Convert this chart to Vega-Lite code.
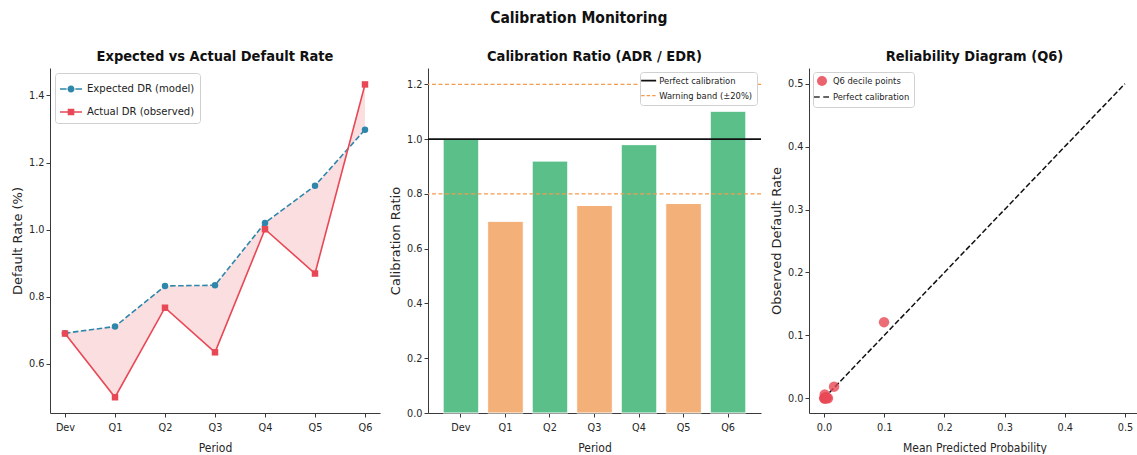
{
  "$schema": "https://vega.github.io/schema/vega-lite/v6.json",
  "background": "white",
  "padding": {"left": 11, "top": 11, "right": 0, "bottom": 0},
  "title": {"text": "Calibration Monitoring", "font": "DejaVu Sans Condensed", "fontSize": 15.5, "fontWeight": "bold", "color": "#111111", "anchor": "middle", "baseline": "alphabetic", "dx": 3, "offset": 10},
  "spacing": 48,
  "bounds": "flush",
  "resolve": {
    "scale": {"color": "independent", "stroke": "independent", "strokeDash": "independent", "shape": "independent", "fill": "independent"},
    "legend": {"color": "independent", "stroke": "independent", "strokeDash": "independent", "shape": "independent", "fill": "independent"}
  },
  "datasets": {
    "wide": [
      {"period": "Dev", "expected": 0.691, "actual": 0.690},
      {"period": "Q1", "expected": 0.711, "actual": 0.500},
      {"period": "Q2", "expected": 0.832, "actual": 0.767},
      {"period": "Q3", "expected": 0.834, "actual": 0.634},
      {"period": "Q4", "expected": 1.020, "actual": 1.001},
      {"period": "Q5", "expected": 1.131, "actual": 0.869},
      {"period": "Q6", "expected": 1.298, "actual": 1.433}
    ],
    "ratio": [
      {"period": "Dev", "ratio": 0.999, "status": "ok"},
      {"period": "Q1", "ratio": 0.700, "status": "warn"},
      {"period": "Q2", "ratio": 0.920, "status": "ok"},
      {"period": "Q3", "ratio": 0.758, "status": "warn"},
      {"period": "Q4", "ratio": 0.980, "status": "ok"},
      {"period": "Q5", "ratio": 0.765, "status": "warn"},
      {"period": "Q6", "ratio": 1.102, "status": "ok"}
    ],
    "refs": [
      {"label": "Perfect calibration", "y": 1.0},
      {"label": "Warning band (±20%)", "y": 0.8},
      {"label": "Warning band (±20%)", "y": 1.2}
    ],
    "diag": [
      {"x": 0.0, "y": 0.0},
      {"x": 0.5, "y": 0.5}
    ],
    "deciles": [
      {"x": 0.0003, "y": 0.0, "series": "Q6 decile points"},
      {"x": 0.0008, "y": 0.0, "series": "Q6 decile points"},
      {"x": 0.0012, "y": 0.006, "series": "Q6 decile points"},
      {"x": 0.0018, "y": 0.0, "series": "Q6 decile points"},
      {"x": 0.0025, "y": 0.002, "series": "Q6 decile points"},
      {"x": 0.0035, "y": 0.0, "series": "Q6 decile points"},
      {"x": 0.0045, "y": 0.001, "series": "Q6 decile points"},
      {"x": 0.0065, "y": 0.0, "series": "Q6 decile points"},
      {"x": 0.0166, "y": 0.0185, "series": "Q6 decile points"},
      {"x": 0.0997, "y": 0.121, "series": "Q6 decile points"}
    ]
  },
  "hconcat": [
    {
      "width": 330,
      "height": 345,
      "title": {"text": "Expected vs Actual Default Rate"},
      "data": {"name": "wide"},
      "encoding": {
        "x": {"field": "period", "type": "ordinal", "sort": ["Dev", "Q1", "Q2", "Q3", "Q4", "Q5", "Q6"], "scale": {"type": "point", "padding": 0.3}, "axis": {"title": "Period"}}
      },
      "layer": [
        {
          "mark": {"type": "area", "color": "#e84855", "opacity": 0.18},
          "encoding": {
            "y": {"field": "expected", "type": "quantitative", "scale": {"domain": [0.453, 1.482], "nice": false, "zero": false}, "axis": {"title": "Default Rate (%)", "values": [0.6, 0.8, 1.0, 1.2, 1.4], "format": ".1f"}},
            "y2": {"field": "actual"}
          }
        },
        {
          "mark": {"type": "line", "color": "#2e86ab", "strokeWidth": 1.6, "strokeDash": [5.5, 2.5]},
          "encoding": {"y": {"field": "expected", "type": "quantitative"}}
        },
        {
          "mark": {"type": "line", "color": "#e84855", "strokeWidth": 1.6},
          "encoding": {"y": {"field": "actual", "type": "quantitative"}}
        },
        {
          "mark": {"type": "point", "shape": "circle", "filled": true, "opacity": 1, "size": 42, "color": "#2e86ab"},
          "encoding": {"y": {"field": "expected", "type": "quantitative"}}
        },
        {
          "mark": {"type": "point", "shape": "square", "filled": true, "opacity": 1, "size": 42, "color": "#e84855"},
          "encoding": {"y": {"field": "actual", "type": "quantitative"}}
        },
        {
          "transform": [{"fold": ["expected", "actual"], "as": ["series", "value"]}],
          "mark": {"type": "point", "filled": true, "opacity": 0, "size": 10},
          "encoding": {
            "y": {"field": "value", "type": "quantitative"},
            "shape": {"field": "series", "type": "nominal", "scale": {"domain": ["expected", "actual"], "range": ["M-1,-0.07H-0.4V0.07H-1Z M0.4,-0.07H1V0.07H0.4Z M-0.32,0A0.32,0.32 0 1,1 0.32,0A0.32,0.32 0 1,1 -0.32,0Z", "M-1,-0.07H1V0.07H-1Z M-0.3,-0.3H0.3V0.3H-0.3Z"]}, "legend": null},
            "color": {
              "field": "series", "type": "nominal",
              "scale": {"domain": ["expected", "actual"], "range": ["#2e86ab", "#e84855"]},
              "legend": {
                "title": null, "orient": "top-left", "offset": 5,
                "fillColor": "white", "strokeColor": "#d0d0d0", "cornerRadius": 3, "padding": 5,
                "labelFont": "DejaVu Sans Condensed", "labelFontSize": 11.2, "labelColor": "#222222",
                "symbolSize": 484, "symbolOpacity": 1, "symbolStrokeWidth": 0, "rowPadding": 6, "labelOffset": 5,
                "labelExpr": "datum.value === 'expected' ? 'Expected DR (model)' : 'Actual DR (observed)'"
              }
            }
          }
        }
      ]
    },
    {
      "width": 333,
      "height": 345,
      "title": {"text": "Calibration Ratio (ADR / EDR)"},
      "layer": [
        {
          "data": {"name": "ratio"},
          "mark": {"type": "bar", "stroke": "white", "strokeWidth": 1},
          "encoding": {
            "x": {"field": "period", "type": "ordinal", "sort": ["Dev", "Q1", "Q2", "Q3", "Q4", "Q5", "Q6"], "scale": {"paddingInner": 0.2, "paddingOuter": 0.34}, "axis": {"title": "Period"}},
            "y": {"field": "ratio", "type": "quantitative", "scale": {"domain": [0, 1.26], "nice": false}, "axis": {"title": "Calibration Ratio", "values": [0, 0.2, 0.4, 0.6, 0.8, 1.0, 1.2], "format": ".1f"}},
            "fill": {"field": "status", "type": "nominal", "scale": {"domain": ["ok", "warn"], "range": ["#5bbf89", "#f3b078"]}, "legend": null}
          }
        },
        {
          "data": {"name": "refs"},
          "transform": [{"filter": "datum.label !== 'Perfect calibration'"}],
          "mark": {"type": "rule", "strokeDash": [4, 2.5], "strokeWidth": 1.3},
          "encoding": {
            "y": {"field": "y", "type": "quantitative"},
            "stroke": {"field": "label", "type": "nominal", "scale": {"domain": ["Perfect calibration", "Warning band (±20%)"], "range": ["#111111", "#f39c4f"]}}
          }
        },
        {
          "data": {"name": "refs"},
          "transform": [{"filter": "datum.label === 'Perfect calibration'"}],
          "mark": {"type": "rule", "strokeWidth": 1.8},
          "encoding": {
            "y": {"field": "y", "type": "quantitative"},
            "stroke": {
              "field": "label", "type": "nominal",
              "scale": {"domain": ["Perfect calibration", "Warning band (±20%)"], "range": ["#111111", "#f39c4f"]},
              "legend": {
                "title": null, "orient": "top-right", "offset": 4,
                "fillColor": "white", "strokeColor": "#d0d0d0", "cornerRadius": 3, "padding": 4,
                "labelFont": "DejaVu Sans Condensed", "labelFontSize": 9.3, "labelColor": "#222222",
                "symbolType": "stroke", "symbolSize": 225, "symbolStrokeWidth": 1.6, "rowPadding": 5, "labelOffset": 6,
                "encode": {"symbols": {"update": {
                  "strokeDash": {"signal": "datum.value === 'Perfect calibration' ? [1, 0] : [3.5, 2]"},
                  "strokeWidth": {"signal": "datum.value === 'Perfect calibration' ? 1.8 : 1.2"},
                  "opacity": {"value": 1}
                }}}
              }
            }
          }
        }
      ]
    },
    {
      "width": 331,
      "height": 345,
      "title": {"text": "Reliability Diagram (Q6)"},
      "layer": [
        {
          "data": {"name": "diag"},
          "mark": {"type": "line", "color": "#111111", "strokeDash": [5.5, 2.4], "strokeWidth": 1.5},
          "encoding": {
            "x": {"field": "x", "type": "quantitative", "scale": {"domain": [-0.025, 0.525], "nice": false, "zero": false}, "axis": {"title": "Mean Predicted Probability", "values": [0, 0.1, 0.2, 0.3, 0.4, 0.5], "format": ".1f"}},
            "y": {"field": "y", "type": "quantitative", "scale": {"domain": [-0.0234, 0.525], "nice": false, "zero": false}, "axis": {"title": "Observed Default Rate", "values": [0, 0.1, 0.2, 0.3, 0.4, 0.5], "format": ".1f"}}
          }
        },
        {
          "data": {"name": "deciles"},
          "mark": {"type": "point", "filled": true, "opacity": 0.8, "size": 110},
          "encoding": {
            "x": {"field": "x", "type": "quantitative"},
            "y": {"field": "y", "type": "quantitative"},
            "shape": {"field": "series", "type": "nominal", "scale": {"domain": ["Q6 decile points", "Perfect calibration"], "range": ["circle", "M-1.6,-0.15H-0.45V0.15H-1.6Z M0.25,-0.15H1.4V0.15H0.25Z"]}, "legend": null},
            "color": {
              "field": "series", "type": "nominal",
              "scale": {"domain": ["Q6 decile points", "Perfect calibration"], "range": ["#e84855", "#111111"]},
              "legend": {
                "title": null, "orient": "top-left", "offset": 4,
                "fillColor": "white", "strokeColor": "#d0d0d0", "cornerRadius": 3, "padding": 4,
                "labelFont": "DejaVu Sans Condensed", "labelFontSize": 9.3, "labelColor": "#222222",
                "symbolSize": 100, "symbolOpacity": 0.85, "symbolStrokeWidth": 0, "rowPadding": 5, "labelOffset": 6
              }
            }
          }
        }
      ]
    }
  ],
  "config": {
    "font": "DejaVu Sans Condensed",
    "view": {"stroke": null},
    "axis": {
      "grid": false,
      "domainColor": "#3a3a3a", "domainWidth": 1,
      "tickColor": "#3a3a3a", "tickSize": 4,
      "labelFont": "DejaVu Sans Condensed", "labelFontSize": 10.8, "labelColor": "#262626", "labelPadding": 2,
      "titleFont": "DejaVu Sans Condensed", "titleFontSize": 12, "titleFontWeight": "normal", "titleColor": "#262626"
    },
    "axisX": {"labelAngle": 0, "labelPadding": 4, "titlePadding": 11},
    "axisY": {"titleFont": "DejaVu Sans", "titleFontSize": 13, "titlePadding": 4},
    "title": {"font": "DejaVu Sans Condensed", "fontWeight": "bold", "fontSize": 14.5, "color": "#111111", "anchor": "middle", "baseline": "alphabetic", "offset": 4}
  }
}
